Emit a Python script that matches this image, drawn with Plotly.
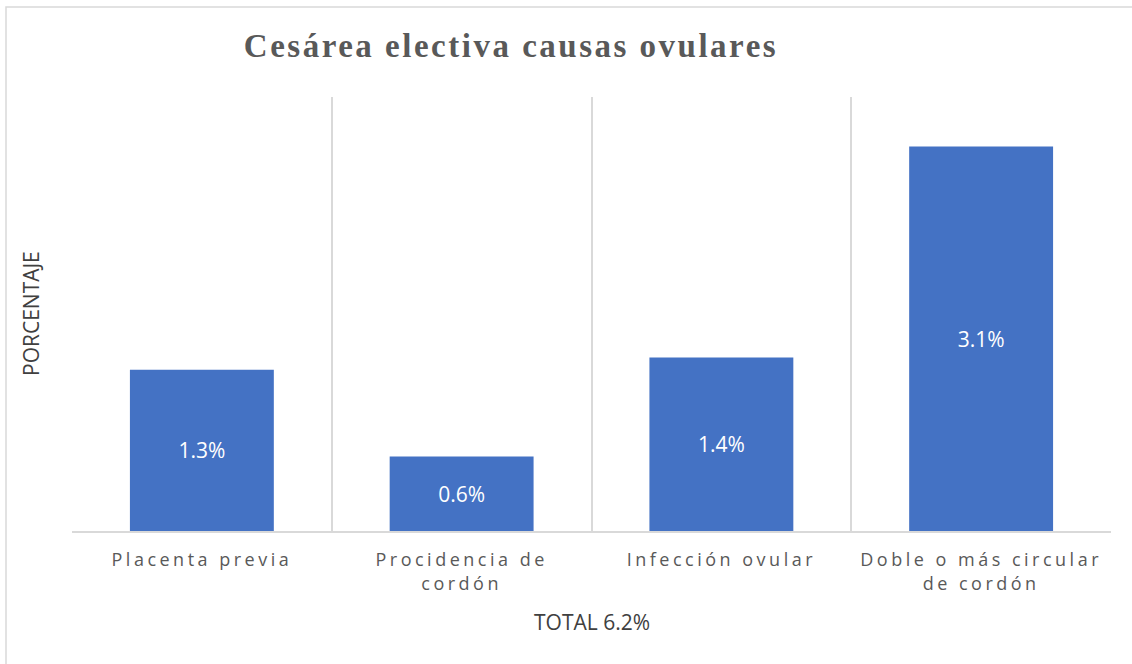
import plotly.graph_objects as go

categories = ["Placenta previa", "Procidencia de<br>cordón", "Infección ovular", "Doble o más circular<br>de cordón"]
values = [1.3, 0.6, 1.4, 3.1]
labels = ["1.3%", "0.6%", "1.4%", "3.1%"]
title_text = "Cesárea electiva causas ovulares"
x_title = "TOTAL 6.2%"
y_title = "PORCENTAJE"

W, H = 1132, 664
L, R, T, B = 72, 21, 97, 133
pw, ph = W - L - R, H - T - B

def px_x(px):
    return (px - L) / pw

def px_y(py):
    return (H - B - py) / ph

fig = go.Figure()
fig.add_trace(go.Bar(
    x=categories, y=values, text=labels,
    textposition="inside", insidetextanchor="middle", textangle=0,
    textfont=dict(family="Open Sans", size=21, color="white"),
    marker=dict(color="#4472C4", line=dict(width=0)),
    hoverinfo="skip",
))

fig.update_layout(
    width=W, height=H,
    margin=dict(l=L, r=R, t=T, b=B),
    paper_bgcolor="white", plot_bgcolor="white",
    bargap=0.446,
    showlegend=False,
    title=dict(text=f"<b>{title_text}</b>", x=511 / W, xref="container", xanchor="center",
               y=1 - 45 / H, yref="container", yanchor="middle",
               font=dict(family="Liberation Serif", size=33, color="#595959")),
    xaxis=dict(tickson="boundaries", showgrid=True, gridcolor="#d9d9d9", gridwidth=1.5,
               showline=True, linecolor="#d9d9d9", linewidth=1.5, ticks="",
               tickfont=dict(family="Open Sans", size=18, color="#595959"),
               ticklabelstandoff=12),
    yaxis=dict(range=[0, 3.5], showgrid=False, zeroline=False, showticklabels=False, ticks=""),
    font=dict(family="Open Sans"),
)

fig.add_annotation(text=x_title, xref="paper", yref="paper", x=px_x(592), y=px_y(622),
                   xanchor="center", yanchor="middle", showarrow=False,
                   font=dict(family="Open Sans", size=21, color="#404040"))
fig.add_annotation(text=y_title, xref="paper", yref="paper", x=px_x(31), y=px_y(314),
                   xanchor="center", yanchor="middle", showarrow=False, textangle=-90,
                   font=dict(family="Open Sans", size=21, color="#404040"))

fig.add_shape(type="rect", xref="paper", yref="paper",
              x0=px_x(6), x1=px_x(1145), y0=px_y(680), y1=px_y(7),
              line=dict(color="#d9d9d9", width=1.5), fillcolor="rgba(0,0,0,0)", layer="below")

post = """
document.body.style.margin='0';
document.body.style.padding='0';
var gd = document.getElementById('{plot_id}');
function applyLS(){
  gd.querySelectorAll('.xtick text').forEach(function(t){ t.style.letterSpacing='3.5px'; });
  gd.querySelectorAll('.gtitle').forEach(function(t){ t.style.letterSpacing='2.5px'; });
}
applyLS();
gd.on('plotly_afterplot', applyLS);
"""
fig.write_html("out.html", post_script=post, config={"displayModeBar": False})
